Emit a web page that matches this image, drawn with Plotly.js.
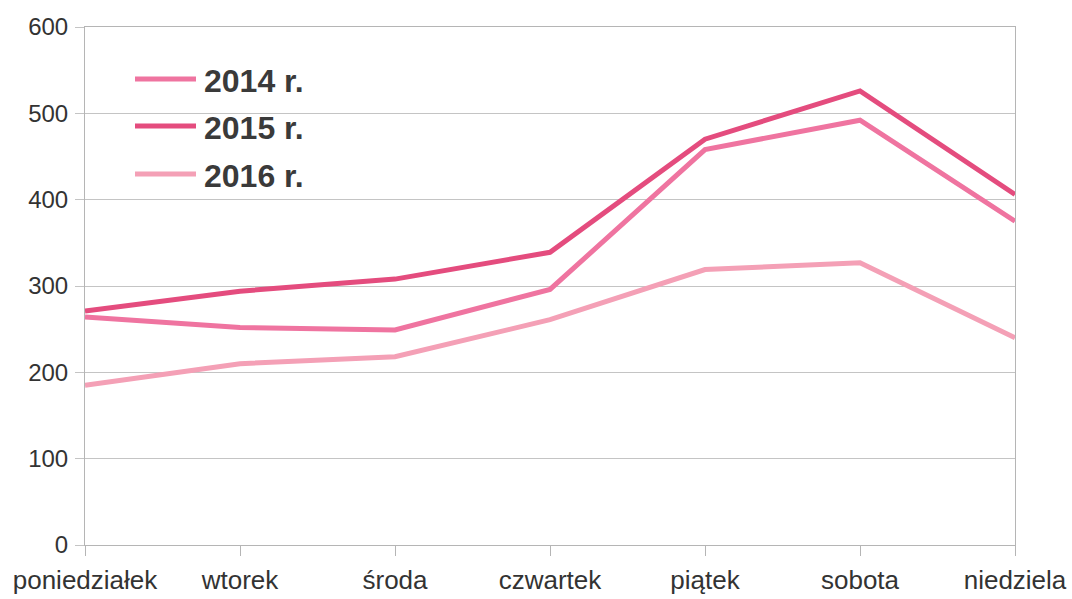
<!DOCTYPE html>
<html>
<head>
<meta charset="utf-8">
<script src="https://cdn.plot.ly/plotly-3.0.1.min.js"></script>
<style>
html,body{margin:0;padding:0;background:#fff;}
#chart{width:1072px;height:599px;}
</style>
</head>
<body>
<div id="chart"></div>
<script>
const days = ["poniedziałek","wtorek","środa","czwartek","piątek","sobota","niedziela"];
const seriesNames = ["2014 r.","2015 r.","2016 r."];
const v2014 = [264, 252, 249, 296, 458, 492, 375];
const v2015 = [271, 294, 308, 339, 470, 526, 406];
const v2016 = [185, 210, 218, 261, 319, 327, 240];
const colors = ["#ef74a0", "#e44c7e", "#f4a0b6"];
const yTicks = [0,100,200,300,400,500,600];

const values = [v2014, v2015, v2016];
const traces = values.map((v,i)=>({
  x: days, y: v, type:"scatter", mode:"lines", name: seriesNames[i],
  line:{color:colors[i], width:5}, showlegend:false, hoverinfo:"skip"
}));

// pixel helpers for the custom legend (plot area: x 85..1015, y 27..545)
const L=85, R=57, T=27, B=54, W=1072-L-R, H=599-T-B;
const px = x => (x-L)/W;
const py = y => (599-B-y)/H;
const legendY = [79, 126, 174];
const shapes = [], annotations = [];
legendY.forEach((y,i)=>{
  shapes.push({type:"line", xref:"paper", yref:"paper", x0:px(135), x1:px(196), y0:py(y), y1:py(y),
    line:{color:colors[i], width:5}});
  annotations.push({xref:"paper", yref:"paper", x:px(202), y:py(y+2), xanchor:"left", yanchor:"middle",
    text:"<b>"+seriesNames[i]+"</b>", showarrow:false,
    font:{family:"Liberation Sans, Arial, sans-serif", size:32, color:"#3a3a3a"}});
});

const layout = {
  width:1072, height:599,
  margin:{l:L, r:R, t:T, b:B},
  paper_bgcolor:"#fff", plot_bgcolor:"#fff",
  font:{family:"Liberation Sans, Arial, sans-serif", size:24, color:"#333"},
  xaxis:{
    type:"category", range:[0,6], categoryorder:"array", categoryarray:days,
    showgrid:false, showline:true, linecolor:"#b5b5b5", linewidth:1, mirror:true,
    ticks:"outside", ticklen:10, tickcolor:"#b5b5b5", tickwidth:1,
    tickfont:{size:26, color:"#333"}, ticklabelstandoff:2, zeroline:false
  },
  yaxis:{
    range:[0,600], tickvals:yTicks, ticktext:yTicks.map(String),
    showgrid:true, gridcolor:"#c4c4c4", gridwidth:1,
    showline:true, linecolor:"#b5b5b5", linewidth:1, mirror:true,
    ticks:"outside", ticklen:9, tickcolor:"#c4c4c4", tickwidth:1,
    tickfont:{size:24, color:"#333"}, zeroline:false, ticklabelstandoff:2
  },
  shapes: shapes,
  annotations: annotations
};
Plotly.newPlot("chart", traces, layout, {staticPlot:true, displayModeBar:false});
</script>
</body>
</html>
